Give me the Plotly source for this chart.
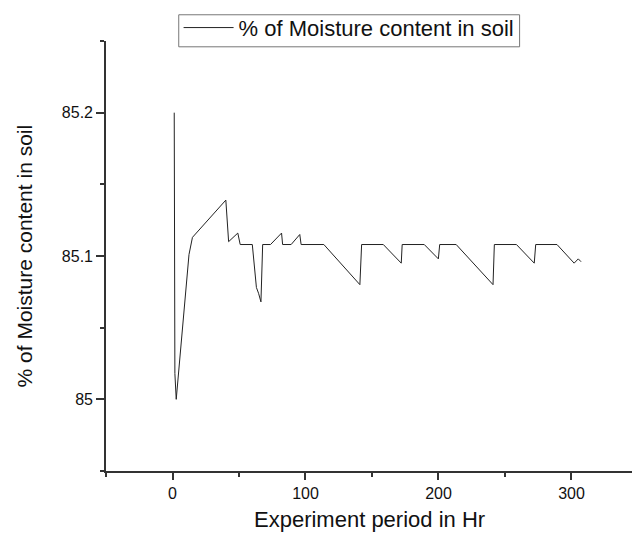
import plotly.graph_objects as go

# Data
hours = [1.3, 1.3, 1.8, 2.8, 12.4, 15.0, 40.1, 42.2, 49.1, 50.9, 60.0, 63.1, 64.7, 66.5,
         67.8, 73.7, 82.0, 82.8, 89.2, 95.7, 96.7, 113.8, 140.9, 142.2, 158.5, 172.0,
         172.7, 189.3, 199.9, 200.9, 213.3, 241.0, 242.0, 258.6, 272.0, 273.1, 289.1,
         302.0, 305.1, 307.2]
moisture = [85.200, 85.121, 85.018, 85.000, 85.101, 85.113, 85.139, 85.110, 85.116, 85.108,
            85.108, 85.078, 85.074, 85.068, 85.108, 85.108, 85.116, 85.108, 85.108, 85.115,
            85.108, 85.108, 85.080, 85.108, 85.108, 85.095, 85.108, 85.108, 85.098, 85.108,
            85.108, 85.080, 85.108, 85.108, 85.095, 85.108, 85.108, 85.095, 85.098, 85.096]

series_name = "% of Moisture content in soil"
x_title = "Experiment period in Hr"
y_title = "% of Moisture content in soil"

FONT = "Liberation Sans, Arial, sans-serif"

fig = go.Figure()
fig.add_trace(go.Scatter(
    x=hours, y=moisture, mode="lines", name=series_name,
    line=dict(color="#222222", width=1),
    showlegend=True,
))

axis_common = dict(
    showgrid=False, zeroline=False, showline=True,
    linecolor="#333333", linewidth=1.6,
    ticks="outside", tickcolor="#333333", tickwidth=1.6,
    tickfont=dict(family=FONT, size=16, color="#111111"),
)

fig.update_layout(
    width=632, height=533,
    margin=dict(l=106, r=0, t=41, b=62, pad=0),
    paper_bgcolor="white", plot_bgcolor="white",
    font=dict(family=FONT, color="#111111"),
    xaxis=dict(range=[-50, 345.5], tickmode="linear", tick0=0, dtick=100, ticklen=7,
               minor=dict(dtick=50, tick0=0, ticklen=4, ticks="outside",
                          tickcolor="#333333", tickwidth=1.6),
               **axis_common),
    yaxis=dict(range=[84.95, 85.25], tickmode="linear", tick0=85, dtick=0.1, ticklen=8,
               minor=dict(dtick=0.05, tick0=85, ticklen=4, ticks="outside",
                          tickcolor="#333333", tickwidth=1.6),
               **axis_common),
    legend=dict(x=0.138, y=1.0796, xanchor="left", yanchor="top",
                borderwidth=0, bgcolor="rgba(0,0,0,0)",
                font=dict(family=FONT, size=22, color="#111111"),
                itemwidth=50),
    shapes=[
        dict(type="rect", xref="paper", yref="paper",
             x0=0.1383, x1=0.7863, y0=0.9865, y1=1.061,
             line=dict(color="#777777", width=1), fillcolor="rgba(0,0,0,0)",
             layer="above"),
    ],
    annotations=[
        dict(text=x_title, xref="paper", yref="paper", x=0.5, y=-0.112,
             xanchor="center", yanchor="middle", showarrow=False,
             font=dict(family=FONT, size=22, color="#111111")),
        dict(text=y_title, xref="paper", yref="paper", x=-0.155, y=0.5,
             xanchor="center", yanchor="middle", textangle=-90, showarrow=False,
             font=dict(family=FONT, size=21, color="#111111")),
    ],
)

fig.write_html("out.html")
